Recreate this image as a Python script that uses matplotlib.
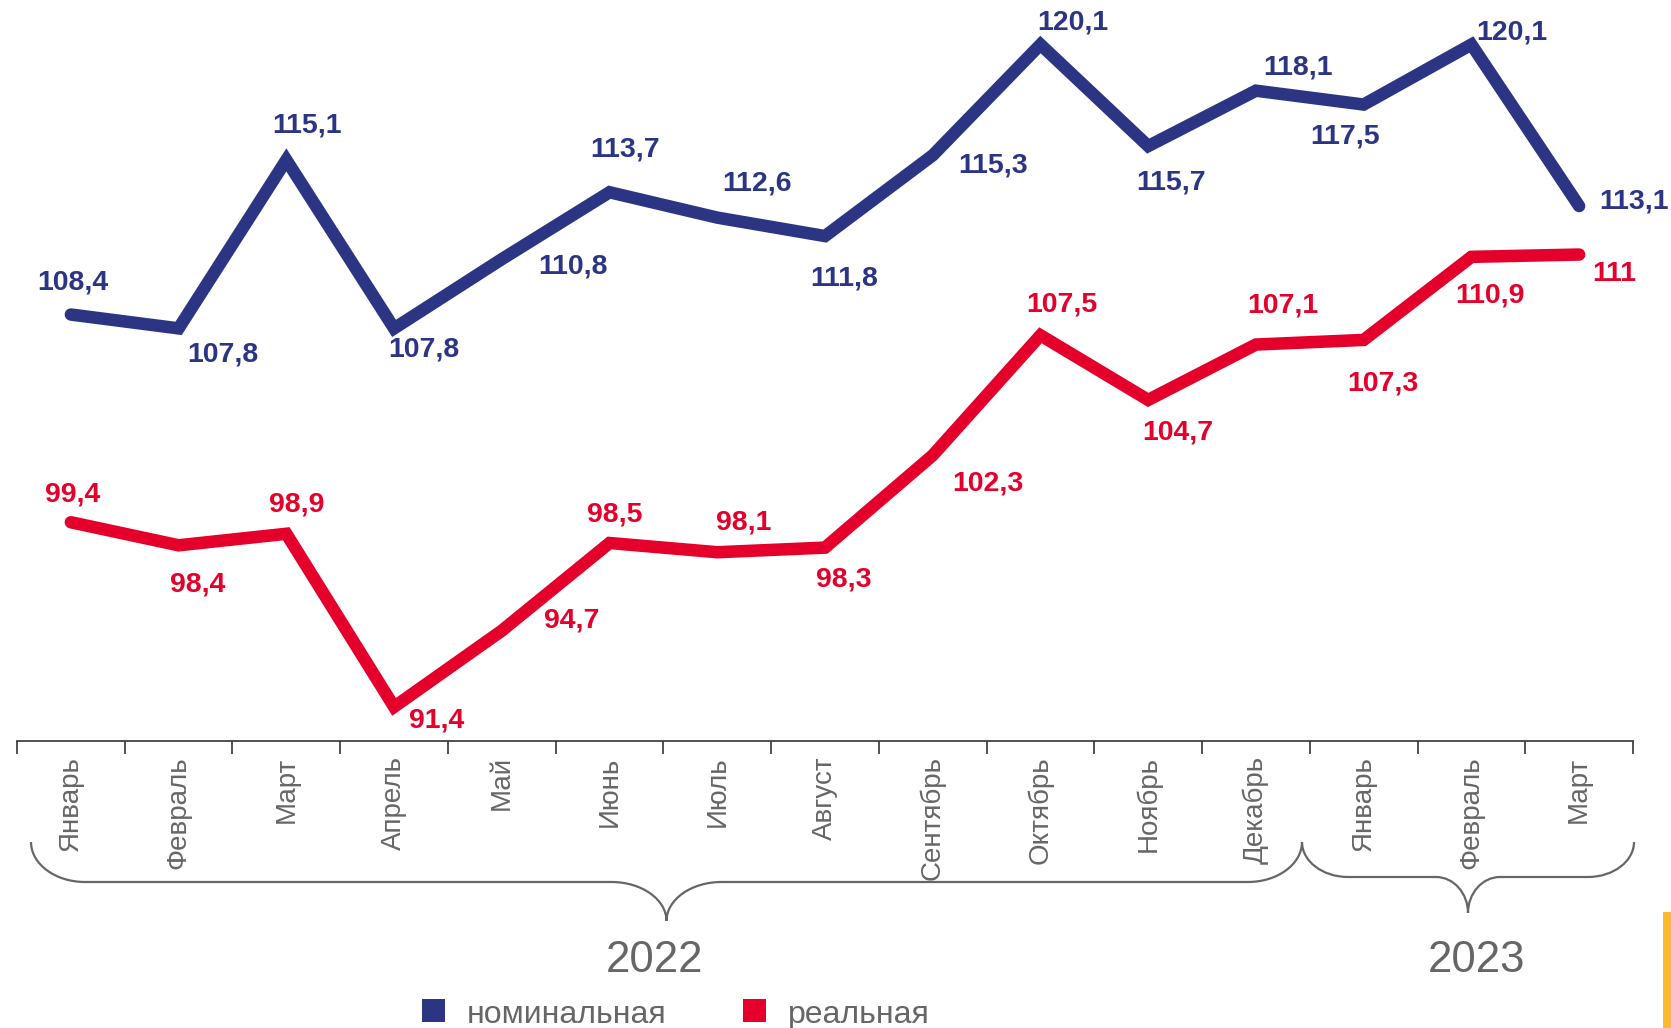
import matplotlib
matplotlib.use("Agg")
import matplotlib.pyplot as plt
from matplotlib.path import Path
from matplotlib.patches import PathPatch, Rectangle

# data
months = ["Январь", "Февраль", "Март", "Апрель", "Май", "Июнь", "Июль", "Август",
          "Сентябрь", "Октябрь", "Ноябрь", "Декабрь", "Январь", "Февраль", "Март"]
nominal = [108.4, 107.8, 115.1, 107.8, 110.8, 113.7, 112.6, 111.8,
           115.3, 120.1, 115.7, 118.1, 117.5, 120.1, 113.1]
real = [99.4, 98.4, 98.9, 91.4, 94.7, 98.5, 98.1, 98.3,
        102.3, 107.5, 104.7, 107.1, 107.3, 110.9, 111.0]
years = ["2022", "2023"]
series_names = ["номинальная", "реальная"]

BLUE = "#2B3584"
RED = "#E4002B"
GRAY = "#666666"

# label offsets (pixels) relative to each point
nom_off = [(2, 32), (44, -26), (21, 34), (30, -21), (71, -7), (16, 43), (40, 34),
           (19, -42), (60, -10), (32, 22), (23, -36), (42, 23), (-19, -32), (40, 12), (55, 5)]
real_off = [(2, 28), (19, -39), (10, 29), (43, -14), (70, 10), (5, 29), (26, 30),
            (19, -32), (55, -28), (21, 31), (30, -33), (27, 39), (19, -44), (19, -39), (35, -19)]


def fmt(v):
    s = f"{v:.1f}".replace(".", ",")
    return s[:-2] if s.endswith(",0") else s


W, H = 1671, 1028
fig = plt.figure(figsize=(W / 100, H / 100), dpi=100)
ax = fig.add_axes([17 / W, 1 - 741 / H, 1616 / W, 741 / H])

x = list(range(len(months)))
for vals, color, offs in [(nominal, BLUE, nom_off), (real, RED, real_off)]:
    ax.plot(x, vals, color=color, lw=9, solid_capstyle="round", solid_joinstyle="miter")
    for xi, v, (dx, dy) in zip(x, vals, offs):
        ax.annotate(fmt(v), (xi, v), xytext=(dx, dy), textcoords="offset pixels",
                    ha="center", va="center", color=color, fontsize=20.5,
                    fontweight="bold", family="Liberation Sans")

ax.set_xlim(-0.5, len(months) - 0.5)
ax.set_ylim(89.92, 122.03)
for s in ["top", "right", "left"]:
    ax.spines[s].set_visible(False)
ax.spines["bottom"].set_color("#333333")
ax.spines["bottom"].set_linewidth(1.2)
ax.set_yticks([])
ax.set_xticks([i - 0.5 for i in range(len(months) + 1)], minor=False)
ax.set_xticklabels([])
ax.tick_params(axis="x", which="major", length=9, width=1.2, color="#333333", direction="out")
ax.set_xticks(x, minor=True)
ax.set_xticklabels(months, minor=True, rotation=90, va="top", ha="center",
                   fontsize=20, color=GRAY, family="Liberation Sans")
ax.tick_params(axis="x", which="minor", length=0, pad=11)

# overlay in pixel coords for braces, years, legend
ov = fig.add_axes([0, 0, 1, 1], zorder=-1)
ov.set_xlim(0, W)
ov.set_ylim(H, 0)
ov.axis("off")


def brace(x0, x1, ytop, yh, ytip, r_end, r_mid):
    xc = (x0 + x1) / 2
    k = 0.55
    verts = [(x0, ytop), (x0, ytop + k * (yh - ytop)), (x0 + (1 - k) * r_end, yh), (x0 + r_end, yh),
             (xc - r_mid, yh),
             (xc - r_mid + k * r_mid, yh), (xc, yh + (1 - k) * (ytip - yh)), (xc, ytip),
             (xc, yh + (1 - k) * (ytip - yh)), (xc + r_mid - k * r_mid, yh), (xc + r_mid, yh),
             (x1 - r_end, yh),
             (x1 - (1 - k) * r_end, yh), (x1, ytop + k * (yh - ytop)), (x1, ytop)]
    codes = [Path.MOVETO, Path.CURVE4, Path.CURVE4, Path.CURVE4, Path.LINETO,
             Path.CURVE4, Path.CURVE4, Path.CURVE4, Path.CURVE4, Path.CURVE4, Path.CURVE4,
             Path.LINETO, Path.CURVE4, Path.CURVE4, Path.CURVE4]
    ov.add_patch(PathPatch(Path(verts, codes), fill=False, edgecolor=GRAY, lw=1.6))


edges = [31, 1302, 1634]
brace_geo = [(842, 882, 921, 54, 55), (842, 877, 913, 46, 32)]
year_x = [654, 1476]
for i, (yr, (ytop, yh, ytip, re, rm)) in enumerate(zip(years, brace_geo)):
    brace(edges[i], edges[i + 1], ytop, yh, ytip, re, rm)
    ov.text(year_x[i], 961, yr, ha="center", va="center", fontsize=31.5, color=GRAY,
            family="Liberation Sans")

# legend
for name, color, sx in zip(series_names, [BLUE, RED], [422, 743]):
    ov.add_patch(Rectangle((sx, 999), 23, 23, facecolor=color, edgecolor="none"))
    ov.text(sx + 45, 1015, name, ha="left", va="center", fontsize=23, color=GRAY,
            family="Liberation Sans")

# yellow accent bar at the right edge
ov.add_patch(Rectangle((1663, 912), 9, 120, facecolor="#FBBA2B", edgecolor="none"))

fig.savefig("out.png", dpi=100)
